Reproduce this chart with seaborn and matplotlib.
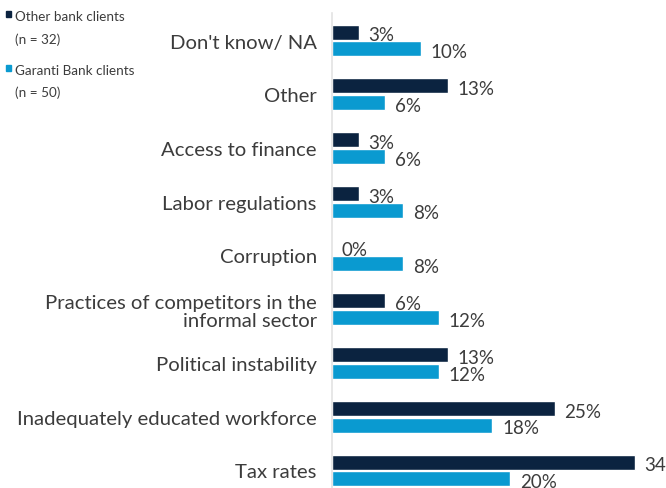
import matplotlib
matplotlib.use("Agg")
import matplotlib.pyplot as plt
from matplotlib.patches import Rectangle
import seaborn as sns
import pandas as pd

categories = [
    "Don't know/ NA",
    "Other",
    "Access to finance",
    "Labor regulations",
    "Corruption",
    "Practices of competitors in the\ninformal sector",
    "Political instability",
    "Inadequately educated workforce",
    "Tax rates",
]
other_bank = [3, 13, 3, 3, 0, 6, 13, 25, 34]
garanti_bank = [10, 6, 6, 8, 8, 12, 12, 18, 20]
series_names = ["Other bank clients", "Garanti Bank clients"]
series_notes = ["(n = 32)", "(n = 50)"]

navy = "#0b2340"
blue = "#0a9ad0"
text_grey = "#3c3c3c"

df = pd.DataFrame({
    "category": categories * 2,
    "value": other_bank + garanti_bank,
    "group": [series_names[0]] * len(categories) + [series_names[1]] * len(categories),
})

sns.set_theme(style="white")
plt.rcParams["font.family"] = ["Lato", "DejaVu Sans"]

fig = plt.figure(figsize=(6.66, 4.89), dpi=100)
ax = fig.add_axes([332 / 666, 0.0, 1 - 332 / 666, 1 - 14 / 489])

sns.barplot(
    data=df, x="value", y="category", hue="group",
    order=categories, hue_order=series_names,
    palette=[navy, blue], width=0.62, gap=0.1,
    orient="h", ax=ax, legend=False, saturation=1,
)

# axes span from y=14px to the bottom edge
px_per_unit = 53.75
top_px = 41.5 - 14
ax.set_ylim(8 + (489 - 471.5) / px_per_unit, -top_px / px_per_unit)
ax.set_xlim(0, 37.5)

for s in ["top", "right", "bottom"]:
    ax.spines[s].set_visible(False)
ax.spines["left"].set_color("#e3e3e3")
ax.spines["left"].set_linewidth(1.2)
ax.set_xticks([])
ax.set_xlabel("")
ax.set_ylabel("")
ax.tick_params(axis="y", length=0, pad=11, labelsize=14.6, labelcolor=text_grey)
for lbl in ax.get_yticklabels():
    lbl.set_horizontalalignment("right")
    lbl.set_linespacing(1.1)

# value labels at the end of each bar
for container in ax.containers:
    for bar in container:
        w = bar.get_width()
        y = bar.get_y() + bar.get_height() / 2
        ax.annotate(f"{w:g}%", xy=(w, y), xytext=(7, -2),
                    textcoords="offset points", ha="left", va="center",
                    fontsize=13.5, color=text_grey, annotation_clip=False)

# legend block in the upper left corner
legend_rows = [(17, 40, navy), (71, 93, blue)]
for (y1, y2, col), name, note in zip(legend_rows, series_names, series_notes):
    fig.patches.append(Rectangle((6 / 666, 1 - (y1 + 1) / 489), 5 / 666, 6 / 489,
                                 transform=fig.transFigure, color=col))
    fig.text(15 / 666, 1 - y1 / 489, name, fontsize=9.7, color=text_grey, va="center")
    fig.text(15 / 666, 1 - y2 / 489, note, fontsize=9.7, color=text_grey, va="center")

fig.savefig("out.png", dpi=100)
